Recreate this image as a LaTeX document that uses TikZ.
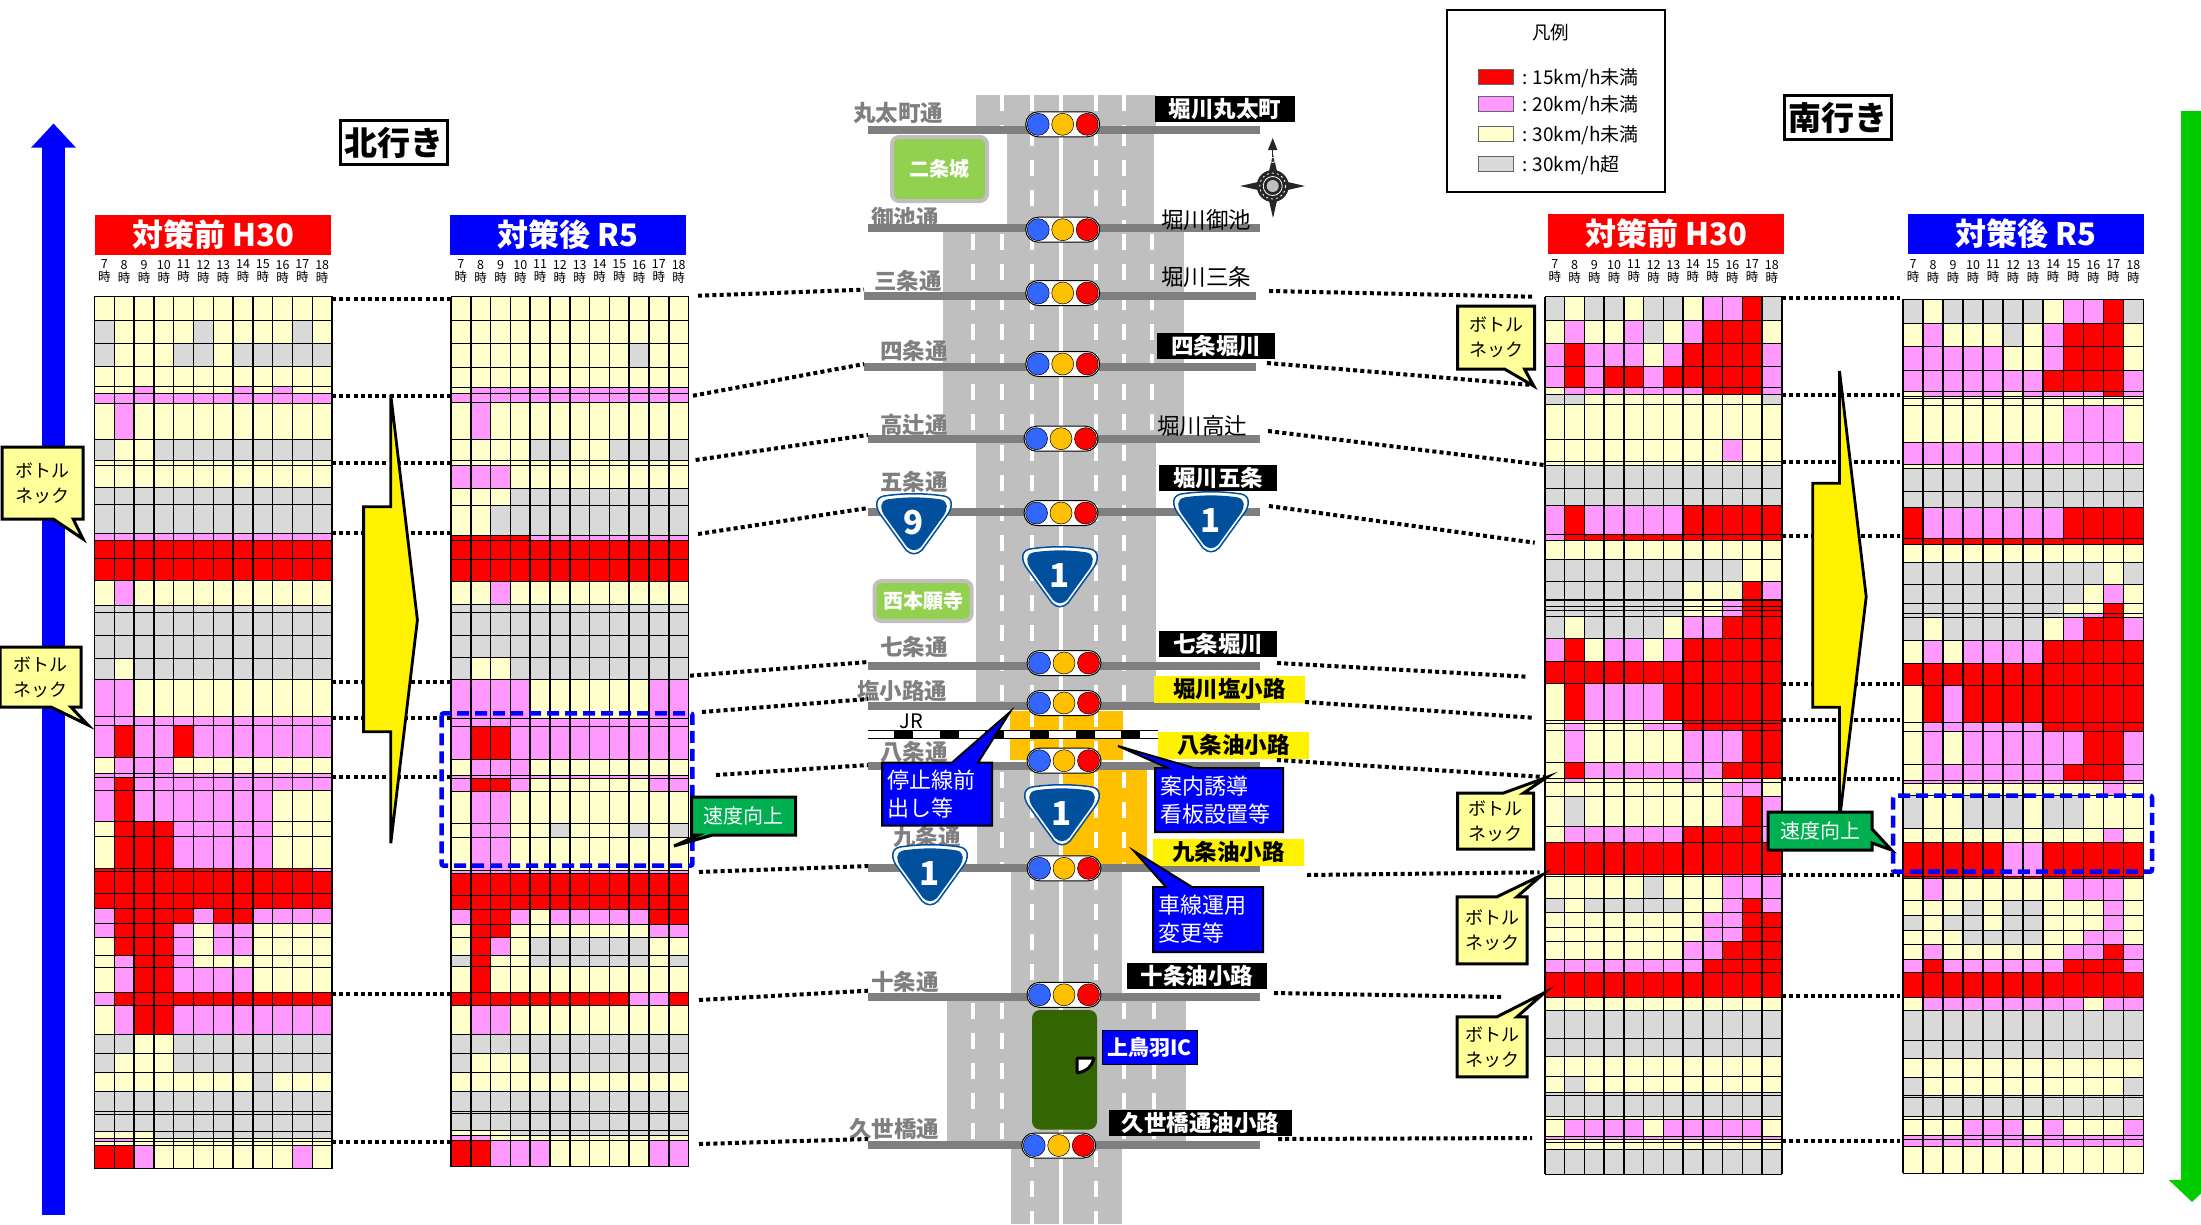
\documentclass[tikz,border=0pt]{standalone}
\usepackage{fontspec}
\setmainfont{Noto Sans CJK JP}
\usetikzlibrary{shapes.callouts, arrows.meta, positioning, calc}

\definecolor{spdred}{HTML}{FF0000}
\definecolor{spdpink}{HTML}{FF99FF}
\definecolor{spdyellow}{HTML}{FFFFCC}
\definecolor{spdgray}{HTML}{D9D9D9}
\definecolor{roadgray}{HTML}{BFBFBF}
\definecolor{streetgray}{HTML}{7F7F7F}
\definecolor{shieldblue}{HTML}{00509E}
\definecolor{parkgreen}{HTML}{92D050}
\definecolor{notegreen}{HTML}{00B050}
\definecolor{noteyellow}{HTML}{FFFF99}
\definecolor{workorange}{HTML}{FFC000}
\definecolor{lampblue}{HTML}{3366FF}
\definecolor{icgreen}{HTML}{336600}
\definecolor{sgreen}{HTML}{00CC00}

\tikzset{
  cellr/.style={fill=spdred},
  cellp/.style={fill=spdpink},
  celly/.style={fill=spdyellow},
  cellg/.style={fill=spdgray},
  section/.style={fill=roadgray},
  lanedash/.style={draw=white, line width=4, dash pattern=on 16pt off 14pt},
  street/.style={draw=streetgray, line width=8},
  linkdot/.style={draw=black, line width=4, dash pattern=on 4pt off 3.2pt},
  sigbox/.style={draw=black, fill=white, line width=1, rounded corners=12.5, minimum width=74, minimum height=25, inner sep=0},
  lamp/.style={circle, draw=black, line width=0.5, minimum size=22, inner sep=0},
  graytag/.style={text=streetgray, font=\fontsize{22.5}{26}\selectfont\bfseries, inner sep=0},
  plaintag/.style={text=black, font=\fontsize{22.5}{26}\selectfont, inner sep=0},
  blacktag/.style={fill=black, text=white, font=\fontsize{22.5}{26}\selectfont\bfseries, minimum height=26, inner sep=0},
  yellowtag/.style={fill=yellow, text=black, font=\fontsize{22.5}{26}\selectfont\bfseries, minimum height=27, minimum width=151, inner sep=0},
  parkbox/.style={draw=roadgray, line width=4, fill=parkgreen, rounded corners=7, text=white, font=\fontsize{20}{23}\selectfont\bfseries, inner sep=0},
  headbox/.style={text=white, font=\fontsize{31}{33}\selectfont\bfseries, minimum width=236, minimum height=40, inner sep=0},
  hourtag/.style={align=center, font=\fontsize{12.5}{13}\selectfont, inner sep=0},
  dirbox/.style={draw=black, line width=3.5, font=\fontsize{33}{38}\selectfont\bfseries, minimum width=107, minimum height=44, inner sep=0},
  bottlenote/.style={rectangle callout, draw=black, line width=3, fill=noteyellow, align=center, font=\fontsize{18}{25}\selectfont, inner sep=0, callout pointer width=20},
  speednote/.style={rectangle callout, draw=black, line width=3, fill=notegreen, text=white, font=\fontsize{20}{24}\selectfont, inner sep=0, minimum width=104, minimum height=38, callout pointer width=14},
  worknote/.style={rectangle callout, draw=black, line width=2, fill=blue, text=white, align=left, font=\fontsize{22}{28}\selectfont, inner xsep=5, inner ysep=0, callout pointer width=26},
  focusbox/.style={draw=blue, line width=4.5, dash pattern=on 12pt off 6pt, rounded corners=2},
  bigarrow/.style={draw=black, line width=2.8, fill=yellow, line join=miter},
}

% one speed cell per letter, up to the closing dot
\newcount\hmcol
\def\hmcell#1{\ifx#1.\else
  \filldraw[draw=black, line width=1, cell#1] ({\gridx+\the\hmcol*\gridw},\ya) rectangle ({\gridx+(\the\hmcol+1)*\gridw},\yb);
  \advance\hmcol by 1
  \expandafter\hmcell\fi}

\newcommand{\speedgrid}[5]{
  \def\gridx{#1}\def\gridw{#2}
  \foreach \yb/\cells [remember=\yb as \ya (initially #3)] in #5 {
    \hmcol=0
    \expandafter\hmcell\cells.
  }
  \foreach \k in {0,...,12}
    \draw[line width=1.5] ({#1+\k*#2},#3) -- ({#1+\k*#2},#4);
}

\newcommand{\hourrow}[3]{
  \foreach \h [count=\i] in {7,...,18}
    \node[hourtag] (hour#3\h) at ({#1+(\i-0.5)*#2},271.5) {\h\\時};
}

\newcommand{\signal}[3]{
  \node[sigbox] (sig#3) at (#1,#2) {};
  \node[lamp, fill=lampblue] (sig#3b) at ({#1-24.5},#2) {};
  \node[lamp, fill=workorange] (sig#3y) at (#1,#2) {};
  \node[lamp, fill=red] (sig#3r) at ({#1+24.5},#2) {};
}

\newcommand{\shieldpath}{(-30,-28) .. controls (-10,-31) and (10,-31) .. (30,-28) .. controls (40,-26) and (38,-16) .. (34,-10) -- (8,26) .. controls (3,31) and (-3,31) .. (-8,26) -- (-34,-10) .. controls (-38,-16) and (-40,-26) .. (-30,-28) -- cycle}

\newcommand{\shield}[4]{
  \begin{scope}[shift={(#1,#2)}]
    \filldraw[draw=shieldblue, fill=white, line width=1.5] \shieldpath;
    \fill[shieldblue, scale=0.88] \shieldpath;
  \end{scope}
  \node[text=white, font=\fontsize{33}{36}\selectfont\bfseries, inner sep=0] (route#4) at (#1,{#2-1}) {#3};
}

\def\rowsA{320.3/yyyyyyyyyyyy,343.3/gyyyygyyyygy,366.7/gyyyggyggggg,386.7/yyyyyyyyyyyy,393.3/yypyyyypypyy,403.3/pppppppppppp,439/ypyyyyyyyyyy,460.7/gyyggggggggg,465.3/yyyyyyyyyyyy,487.3/yyyyyyyyyyyy,504.3/gggggggggggg,533.3/gggggggggggg,540/pppppppppppp,558.7/rrrrrrrrrrrr,580/rrrrrrrrrrrr,605/ypyyyyyyyyyy,612.3/gggggggggggg,635.3/gggggggggggg,658/gggggggggggg,679.3/gygggggggggg,716/ppyyyyyyyyyy,725/pppppppppppp,757.3/prpprppppppp,773.3/ypppyyyyyyyy,777.3/pppppppppppp,790.7/prpppppppppp,821.7/prpppppppyyy,836.7/yrrrpppppyyy,868.3/yrrrpppppyyy,871.7/rrrrrrrrrrrp,893.3/rrrrrrrrrrrr,908.3/rrrrrrrrrrrr,923.3/prrrrprrpppp,937.7/prrrpyppyyyy,955/yrrrpyppyyyy,967.7/yprrpyyyyyyy,992.7/yprrppppyyyy,1005.7/prrrrrrrrrrr,1034.3/yprrpppppppp,1053/ggyygggggggg,1072/gyyygggggggg,1091.7/yyyyyyyygyyy,1111.7/gggggggggggg,1114.3/gggggggggggg,1131/gggggggggggg,1138.3/yyyggggggggg,1141.7/ppyyyyyyyyyy,1145/yyyyyyyyyyyy,1168.3/rrpyyyyyyypy}

\def\rowsB{320.3/yyyyyyyyyyyy,343.3/yyyyyyyyyyyy,367.3/yyyyyyyyygyy,387.3/yyyyyyyyyyyy,393.3/yppppppppppp,402.3/pppppppppppp,439.3/ypyyyyyyyyyy,460.7/yyyyggyygggg,465.3/yyyyyyyyyyyy,488.3/pppyyyyyyyyy,505.3/yyyggggggggg,535/yygggggggggg,540/rrrrpppppppp,559.3/rrrrrrrrrrrr,581/rrrrrrrrrrrr,604.3/yypyyyyyyyyy,612.3/gggggggggggg,635/gggggggggggg,657.7/gggggggggggg,679.3/gyyggggggggg,718.3/ppppyyyyyypp,726/pppppppppppp,759.3/prrppppppppp,775/ypppyyyyyyyy,778.3/pppppppppppp,791/prrpyyyyyypp,823.3/yppyyyyyyyyy,837.7/yppyygyyygyg,870/yppyyyyyyyyy,873.3/pppppppppppp,895/rrrrrrrrrrrr,909.3/rrrrrrrrrrrr,924/prrpyppppprr,937.7/yrryyyyyyypp,955/yrpyggggggyy,966.7/gryyggggggyg,992.7/yryyyyyyyyyy,1005/rrrrrrrrrppr,1034.3/yppyyyyyyyyy,1053/gggggggggggg,1072/gyyygggggggg,1091.7/yyyyyyyyyyyy,1111.7/gggggggggggg,1113.3/gggggggggggg,1130/gggggggggggg,1135/yyyggggggggg,1140/ppyyyyyyyyyy,1166.7/rrpppyyyyypp}

\def\rowsC{320.3/gyggyggypprg,343.3/ypyypgyprrry,366.7/prpppyprrrrp,387.3/prprrprrrrrp,394/yppppppprrrp,404/ggyyyyyyyyyg,439/yyyyyyyyyyyy,461.7/yyyyyyyyypyy,465.7/yyyyyyyyyyyy,488.3/gggggggggggg,505.3/gggggggggggg,534.3/prppppprrrrr,540/prrrrrrrrrrr,559.3/yyyyyyyyyyyy,581/ggggggggggyy,599.3/gggggggyyyrp,600.7/gggggggyyprr,606/gggggggyyprr,610.7/gggggggyyprr,616/gggggggyyprr,638.7/gyggggypprrr,661.3/pryppyprrrrr,683.3/rrrrrrrrrrrr,720/yrpppprrrrrr,723.3/yyyyyyyrrrrr,730.7/ypyyypprrrrr,762.3/ypyyyyyppprr,778.7/yrppppppprrr,782/ypyyyyypyypy,796/yyyyyyyyyppy,826.7/ygyyyyyyyprp,842/ypppppprrrrp,874/rrrrrrrrrrrr,876/yyyyyyyyyppp,898.3/yyyyygyyyppp,912.7/gygggggyyprp,927.7/yyyyyyyypprr,941.7/yyyyyyyypprr,959.3/yyyyyyypprrr,972.7/pppppppprrrr,997.3/rrrrrrrrrrrr,1010.7/yyyyyyyyyyyy,1038.3/gggggggggggg,1056.7/gggggggggggg,1076.7/yyyyyyyyyyyy,1092.7/ygyyyyyyyyyy,1095.3/gggggggggggg,1116/gggggggggggg,1119.3/yyyyyyyyyyyy,1136.7/yppppypppppy,1139.3/pppppppppppp,1142/yyyyyyyyyyyy,1149.3/yyyyyyyyyyyy,1174/gggggggggggg}

\def\rowsD{323.3/gygggggypprg,346.7/ypyyygyprrry,370/pppppyyprrry,391.7/ppppppprrrrp,396.7/yppppypppprp,398.7/yyyyyyyyyyyy,405.3/yyyyyyyyyyyy,442.3/yyyyyyyypppy,464.3/pppppppppppp,468.3/yyyyyyyyyyyy,491/gggggggggggg,507.7/gggggggggggg,538.3/rppppppprrrr,544/rrrrrrrrrrrr,562/yyyyyyyyyyyy,584/ggggggggggyg,603.3/gggggggggypy,613.3/ggggggggyyry,617.3/gggggggggpry,640/gygggggyprrp,663.3/ypypppprrrrr,685/rrrrrrrrrrrr,722.7/yrprrrrrrrrr,731/ypppppprrrrr,764.3/ypypppppprrp,780/yppppppprrrp,783.3/pppppppppppp,795/yyyyyyyyyypy,828.3/gyygggyggyyy,842.7/yyyyyyyyyypy,876/rrrrrpprrrrr,878.3/rrrrrrrrrrrr,900.7/ypyyyyyypppy,915/yyygyggyyypy,930/gyggyggyyypy,944/yyyggggyyppy,959.3/ypyyyyyypprp,972.7/prpppppprrrp,997.3/rrrrrrrrrrrr,1010/yppppppppypp,1040/gggggggggggg,1058.7/gggggggggggg,1077.3/yyyyyyyyyyyy,1095/gyyyyyyyyyyg,1097.3/gggggggggggg,1116/gggggggggggg,1119.3/yyyyyyyyyyyy,1135/yyypppypyyyp,1139.3/pppppppppppp,1146/pppppppppppp,1173.3/yyyyyyyyyyyy}

\begin{document}
\begin{tikzpicture}[x=1pt,y=-1pt]
\useasboundingbox (0,0) rectangle (2201,1224);

% Direction arrows
\draw[blue, line width=23, -{Triangle[length=24pt,width=43pt]}] (53.5,1215) -- (53.5,123.5);
\draw[sgreen, line width=23, -{Triangle[length=22pt,width=45pt]}] (2192,111) -- (2192,1202);

% Road sections
\fill[section] (976,95) rectangle (1156,130);
\fill[section] (1007,130) rectangle (1154,228);
\fill[section] (943,228) rectangle (1184,439);
\fill[section] (976,439) rectangle (1156,706);
\fill[section] (977,765) rectangle (1063,868);
\fill[section] (1010.7,868) rectangle (1121.7,997);
\fill[section] (946.7,997) rectangle (1185.7,1145);
\fill[section] (1010.7,1145) rectangle (1121.7,1224);

% Work areas
\fill[workorange] (1010,711) rectangle (1123,760);
\fill[workorange] (1063,770) rectangle (1147,868);

% Lanes
\draw[draw=white, line width=4] (1060.7,95) -- (1060.7,1224);
\foreach \lx in {1002,1032,1096,1124} \draw[lanedash] (\lx,95) -- (\lx,130);
\foreach \lx in {1032,1096,1124} \draw[lanedash] (\lx,130) -- (\lx,228);
\foreach \lx in {973,1002,1032,1096,1124,1152} \draw[lanedash] (\lx,234) -- (\lx,439);
\foreach \lx in {1002,1032,1096,1124} \draw[lanedash] (\lx,445) -- (\lx,706);
\foreach \lx in {1032,1096} \draw[lanedash] (\lx,711) -- (\lx,760);
\foreach \lx in {1002,1032,1096,1124} \draw[lanedash] (\lx,772) -- (\lx,868);
\foreach \lx in {1032,1096} \draw[lanedash] (\lx,874) -- (\lx,997);
\foreach \lx in {973,1002,1124,1153.7} \draw[lanedash] (\lx,1003) -- (\lx,1145);
\foreach \lx in {1032,1096} \draw[lanedash] (\lx,1151) -- (\lx,1224);

% Cross streets
\foreach \sy/\sa/\sb in {129.7/868/1260,228.3/868/1260,295.7/864/1256,366.7/864/1256,439/868/1260,512/868/1260,666.2/868/1260,706/868/1260,765.6/868/1260,868.3/868/1260,997.3/868/1260,1145/868/1260}
  \draw[street] (\sa,\sy) -- (\sb,\sy);

% JR line
\fill[white] (868,730) rectangle (1158,738);
\draw[line width=1] (868,730) -- (1158,730) (868,738) -- (1158,738);
\foreach \jx in {894,940,985,1030,1076,1121}
  \fill[black] (\jx,730) rectangle ({\jx+19},738);
\node[font=\fontsize{20}{22}\selectfont, inner sep=0] (jrtag) at (911,721.5) {JR};

% Interchange
\fill[icgreen, rounded corners=8] (1032,1010) rectangle (1097,1129.5);
\filldraw[draw=black, fill=white, line width=3, rounded corners=1] (1077,1058) -- (1094,1058) .. controls (1092,1066) and (1087,1071) .. (1077,1073) -- cycle;

% Streets by name, west side
\node[graytag] (w1) at (898,113) {丸太町通};
\node[graytag] (w2) at (905,218) {御池通};
\node[graytag] (w3) at (908,281) {三条通};
\node[graytag] (w4) at (914,351) {四条通};
\node[graytag] (w5) at (914,425) {高辻通};
\node[graytag] (w6) at (914,482) {五条通};
\node[graytag] (w7) at (914,646.5) {七条通};
\node[graytag] (w8) at (902,691) {塩小路通};
\node[graytag] (w9) at (914,751.7) {八条通};
\node[graytag] (w10) at (927,836.7) {九条通};
\node[graytag] (w11) at (905,981.6) {十条通};
\node[graytag] (w12) at (894,1128.7) {久世橋通};

% Streets by name, east side
\node[blacktag, minimum width=140] (e1) at (1225,109) {堀川丸太町};
\node[plaintag] (e2) at (1206,220) {堀川御池};
\node[plaintag] (e3) at (1206,277) {堀川三条};
\node[blacktag, minimum width=118] (e4) at (1216,346) {四条堀川};
\node[plaintag] (e5) at (1202,425.7) {堀川高辻};
\node[blacktag, minimum width=118] (e6) at (1218,478) {堀川五条};
\node[blacktag, minimum width=118] (e7) at (1218,644) {七条堀川};
\node[yellowtag] (e8) at (1229.5,689.5) {堀川塩小路};
\node[yellowtag] (e9) at (1233.5,745) {八条油小路};
\node[yellowtag] (e10) at (1228.5,852) {九条油小路};
\node[blacktag, minimum width=140] (e11) at (1197,976) {十条油小路};
\node[blacktag, minimum width=183] (e12) at (1200.5,1123) {久世橋通油小路};
\node[draw=black, line width=1, fill=blue, text=white, font=\fontsize{21}{24}\selectfont\bfseries, minimum width=95, minimum height=34, inner sep=0] (ictag) at (1149.5,1047) {上鳥羽IC};

% Parks
\node[parkbox, minimum width=95, minimum height=64] (nijo) at (939.5,169) {二条城};
\node[parkbox, minimum width=97, minimum height=40] (honganji) at (923,601) {西本願寺};

% Signals
\signal{1062.7}{124.3}{a}
\signal{1062.7}{229.7}{b}
\signal{1062.7}{293}{c}
\signal{1062.7}{364}{d}
\signal{1061}{438.7}{e}
\signal{1061}{513}{f}
\signal{1064}{663}{g}
\signal{1064}{703}{h}
\signal{1064}{760.7}{i}
\signal{1064}{868.3}{j}
\signal{1064}{994.8}{k}
\signal{1058.7}{1145.5}{l}

% Route shields
\shield{914}{524}{9}{a}
\shield{1211}{522}{1}{b}
\shield{1060}{577}{1}{c}
\shield{1062}{815}{1}{d}
\shield{930}{875}{1}{e}

% Compass
\fill[black!85] (1273,218) -- (1279,192) -- (1305,186) -- (1279,180) -- (1273,154) -- (1267,180) -- (1240,186) -- (1267,192) -- cycle;
\fill[black!85] (1272.7,186) circle (16);
\draw[white, line width=0.8, dash pattern=on 2pt off 3pt] (1272.7,186) circle (13);
\draw[white, line width=0.8] (1272.7,186) circle (9.5);
\fill[white!75!black] (1272.7,186) circle (6);
\draw[line width=1.5, black!85, -{Triangle[length=12pt,width=9pt]}] (1272.7,165) -- (1272.7,138);
\draw[white, line width=0.8] (1272.7,160) circle (2.5);

% Speed tables
\speedgrid{94.5}{19.8}{296.7}{1168.3}{\rowsA}
\speedgrid{451}{19.8}{296.7}{1166.7}{\rowsB}
\speedgrid{1545}{19.73}{296.7}{1174}{\rowsC}
\speedgrid{1903}{20.03}{299.3}{1173.3}{\rowsD}

\node[headbox, fill=red] (headA) at (213,235) {対策前 H30};
\node[headbox, fill=blue] (headB) at (568,235) {対策後 R5};
\node[headbox, fill=red] (headC) at (1666,234) {対策前 H30};
\node[headbox, fill=blue] (headD) at (2026,234) {対策後 R5};

\hourrow{94.5}{19.8}{A}
\hourrow{451}{19.8}{B}
\hourrow{1545}{19.73}{C}
\hourrow{1903}{20.03}{D}

% Dotted links between tables
\foreach \ly in {299,396,462.7,533,681.7,718,777,993.7,1142}
  \draw[linkdot] (332,\ly) -- (450,\ly);
\foreach \ly in {298,395,461.7,536,684.3,720.3,779,874.7,996.3,1141}
  \draw[linkdot] (1782,\ly) -- (1900,\ly);

% Dotted links to the road
\foreach \xa/\ya/\xb/\yb in {698/295.7/864/289.7,693/395.7/864/364,695.6/460/868/435,698/534/868/508,690/675.7/868/662,702/712/868/699,716/775/868/765,699/872/868/866,699/1000/868/990.7,699/1144/868/1139}
  \draw[linkdot] (\xa,\ya) -- (\xb,\yb);
\foreach \xa/\ya/\xb/\yb in {1269/291/1532/296.7,1267/363/1532/385,1268/431/1544/465,1269/506/1534.7/542.7,1277/663/1527/676.7,1305/702/1532/717.7,1277/760/1544/777,1307/875/1539.5/872.3,1274/993/1503/997,1278/1139/1532/1138}
  \draw[linkdot] (\xa,\ya) -- (\xb,\yb);

% Improvement arrows
\draw[bigarrow] (390.8,395) -- (417.4,620) -- (390.8,843.3) -- (390.8,731.7) -- (363.6,731.7) -- (363.6,506.7) -- (390.8,506.7) -- cycle;
\draw[bigarrow] (1839.5,371) -- (1866.2,596.7) -- (1839.5,820) -- (1839.5,707.3) -- (1812.8,707.3) -- (1812.8,483.3) -- (1839.5,483.3) -- cycle;

% Focus frames
\draw[focusbox] (441.7,713.3) rectangle (692.4,865.7);
\draw[focusbox] (1893,795.7) rectangle (2152,871.7);

% Notes
\node[bottlenote, minimum width=81, minimum height=72, callout absolute pointer={(83,539)}] (neckA) at (42.7,483) {ボトル\\ネック};
\node[bottlenote, minimum width=81, minimum height=60, callout absolute pointer={(88,725)}] (neckB) at (40.5,677) {ボトル\\ネック};
\node[bottlenote, minimum width=77, minimum height=63, callout absolute pointer={(1533.7,386)}] (neckC) at (1496,337.5) {ボトル\\ネック};
\node[bottlenote, minimum width=76, minimum height=56, callout absolute pointer={(1546.8,777.3)}] (neckD) at (1495.6,821) {ボトル\\ネック};
\node[bottlenote, minimum width=70, minimum height=67, callout absolute pointer={(1542,875)}] (neckE) at (1492,930.3) {ボトル\\ネック};
\node[bottlenote, minimum width=70, minimum height=60, callout absolute pointer={(1544.4,992.7)}] (neckF) at (1492,1046.8) {ボトル\\ネック};

\node[speednote, callout absolute pointer={(674,846)}] (fastA) at (743.5,816) {速度向上};
\node[speednote, callout absolute pointer={(1891.5,850)}] (fastB) at (1820,831) {速度向上};

\node[worknote, text width=100, minimum height=63, callout absolute pointer={(1010,712)}] (workA) at (937,794) {停止線前\\出し等};
\node[worknote, text width=118, minimum height=64, callout absolute pointer={(1118,746)}] (workB) at (1219,800) {案内誘導\\看板設置等};
\node[worknote, text width=100, minimum height=65, callout absolute pointer={(1134,851)}] (workC) at (1208,919.5) {車線運用\\変更等};

% Direction
\node[dirbox] (north) at (394,142.5) {北行き};
\node[dirbox] (south) at (1838,117.5) {南行き};

% Legend
\draw[line width=2] (1446.7,10) rectangle (1665,191.7);
\node[font=\fontsize{18.5}{20}\selectfont, inner sep=0] (legtitle) at (1550.5,33) {凡例};
\foreach \ly/\lc/\la/\lb [count=\i] in {76.7/spdred/15km/未満,103.3/spdpink/20km/未満,133.3/spdyellow/30km/未満,163.3/spdgray/30km/超} {
  \filldraw[draw=black!60, fill=\lc] (1477.7,{\ly-7.5}) rectangle (1513.6,{\ly+7.5});
  \node[anchor=west, font=\fontsize{19}{21}\selectfont, inner sep=0] (leg\i) at (1522,{\ly+2}) {:\hspace{5pt}\la{}/h\lb};
}
\end{tikzpicture}
\end{document}
